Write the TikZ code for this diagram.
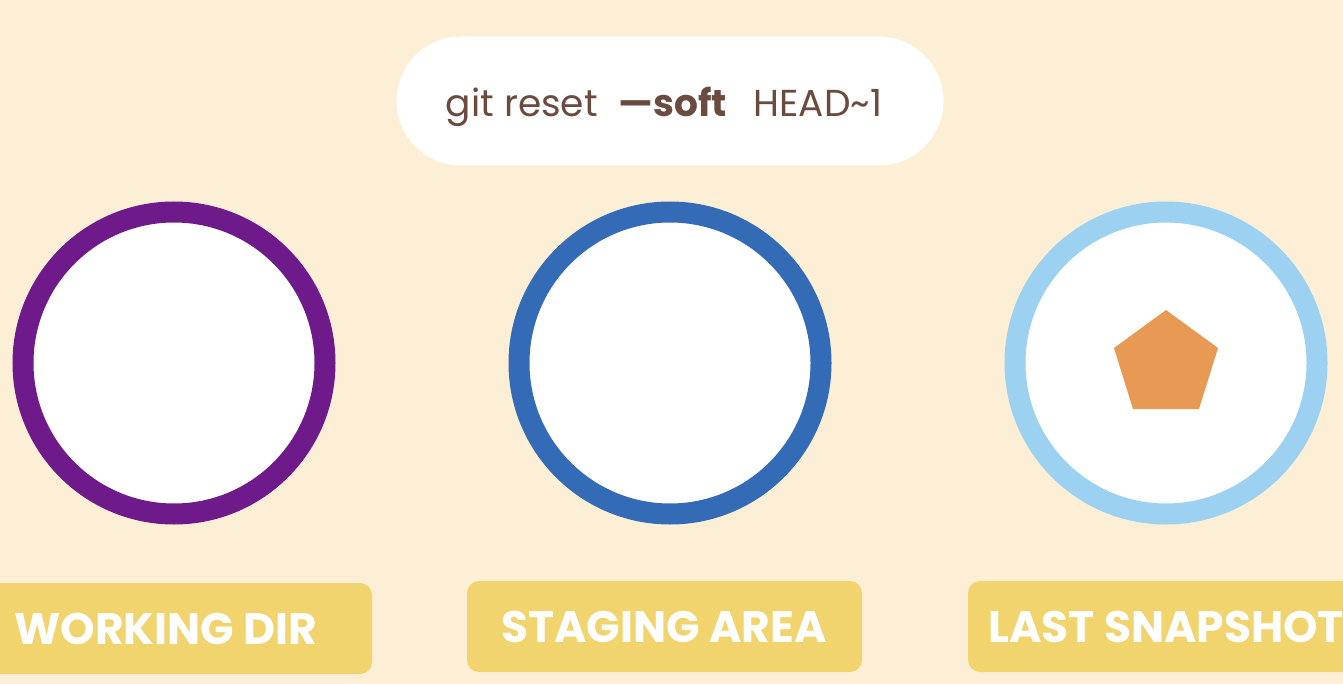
\documentclass[tikz,border=0pt]{standalone}
\usepackage{fontspec}
\setmainfont{Poppins}
\definecolor{bg}{HTML}{FDEFD6}
\definecolor{purp}{HTML}{6F1A8A}
\definecolor{blu}{HTML}{336BB7}
\definecolor{lblu}{HTML}{9DD1F2}
\definecolor{yel}{HTML}{F2D46E}
\definecolor{ora}{HTML}{E89A55}
\definecolor{brn}{HTML}{6B4A40}
\begin{document}
\begin{tikzpicture}[x=1pt,y=-1pt,
  ring/.style={circle,fill=white,line width=21pt,minimum size=302pt,inner sep=0pt},
  labelbox/.style={fill=yel,rounded corners=12pt,draw=none},
  labeltxt/.style={text=white,font=\fontsize{44}{44}\selectfont\bfseries,inner sep=0pt}]
\useasboundingbox (0,0) rectangle (1343,684);
\clip (0,0) rectangle (1343,684);
\fill[bg] (0,0) rectangle (1343,684);
% command pill
\node[fill=white,draw=white!92!bg,line width=1pt,rounded corners=64pt,minimum width=546pt,minimum height=128pt,inner sep=0pt] (pill) at (670,101) {};
\node[text=brn,font=\fontsize{37.5}{37.5}\selectfont,anchor=base,inner sep=0pt] (cmd) at (664,117) {git reset\hspace{0.55em}\textbf{—soft}\hspace{0.72em}HEAD\char`~1};
% rings
\node[ring,draw=purp] (wd) at (174,363) {};
\node[ring,draw=blu] (sa) at (670,363) {};
\node[ring,draw=lblu] (ls) at (1166,363) {};
% pentagon
\fill[ora] (1166,310) -- (1218,348) -- (1199,409) -- (1133,409) -- (1114,348) -- cycle;
% labels
\fill[labelbox] (-20,583) rectangle (372,674);
\node[labeltxt,anchor=west] (wdl) at (14,629) {WORKING DIR};
\fill[labelbox] (467,581) rectangle (862,672);
\node[labeltxt] (sal) at (664,627) {STAGING AREA};
\fill[labelbox] (968,581) rectangle (1380,672);
\node[labeltxt,anchor=west] (lsl) at (988,627) {LAST SNAPSHOT};
\end{tikzpicture}
\end{document}
